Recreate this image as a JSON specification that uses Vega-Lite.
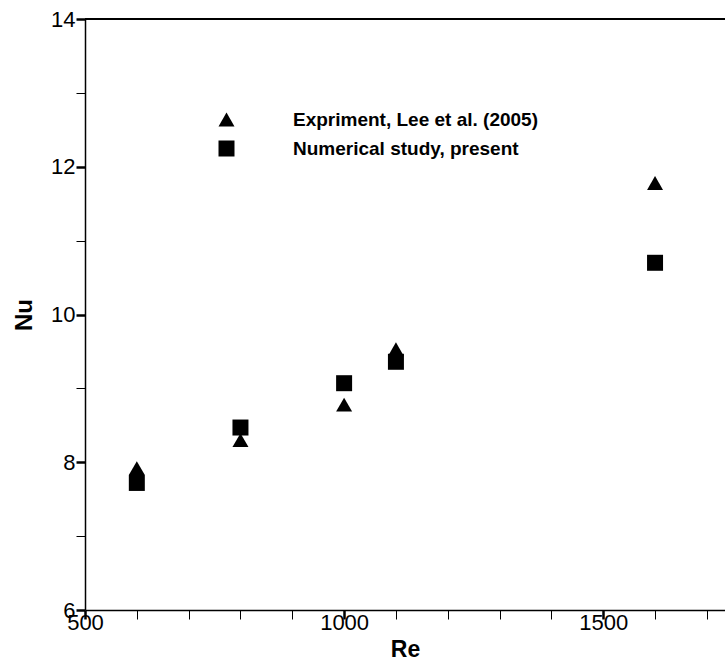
{
  "$schema": "https://vega.github.io/schema/vega-lite/v6.json",
  "autosize": "none",
  "width": 640,
  "height": 591,
  "padding": {"left": 85, "top": 19, "right": 0, "bottom": 54},
  "background": "white",
  "config": {
    "view": {"stroke": null},
    "font": "Liberation Sans"
  },
  "data": {
    "values": [
      {"Re": 600, "Nu": 7.92, "series": "Expriment, Lee et al. (2005)"},
      {"Re": 800, "Nu": 8.3, "series": "Expriment, Lee et al. (2005)"},
      {"Re": 1000, "Nu": 8.78, "series": "Expriment, Lee et al. (2005)"},
      {"Re": 1100, "Nu": 9.53, "series": "Expriment, Lee et al. (2005)"},
      {"Re": 1600, "Nu": 11.78, "series": "Expriment, Lee et al. (2005)"},
      {"Re": 600, "Nu": 7.72, "series": "Numerical study, present"},
      {"Re": 800, "Nu": 8.47, "series": "Numerical study, present"},
      {"Re": 1000, "Nu": 9.07, "series": "Numerical study, present"},
      {"Re": 1100, "Nu": 9.36, "series": "Numerical study, present"},
      {"Re": 1600, "Nu": 10.7, "series": "Numerical study, present"}
    ]
  },
  "layer": [
    {
      "mark": {"type": "rule", "color": "black", "strokeWidth": 1.2},
      "encoding": {"y": {"datum": 14, "type": "quantitative"}}
    },
    {
      "mark": {"type": "point", "filled": true, "opacity": 1, "color": "black", "size": 256},
      "encoding": {
        "x": {
          "field": "Re",
          "type": "quantitative",
          "scale": {"domain": [500, 1735], "nice": false, "zero": false},
          "axis": {
            "title": "Re",
            "titleFont": "Liberation Sans",
            "titleFontSize": 23,
            "titleFontWeight": "bold",
            "titleColor": "black",
            "titlePadding": 5,
            "values": [500, 600, 700, 800, 900, 1000, 1100, 1200, 1300, 1400, 1500, 1600, 1700],
            "labelExpr": "datum.value % 500 === 0 ? datum.label : ''",
            "format": "d",
            "labelFontSize": 22,
            "labelColor": "black",
            "labelPadding": -7,
            "labelFlush": false,
            "grid": false,
            "domainColor": "black",
            "domainWidth": 1.5,
            "tickColor": "black",
            "tickSize": 9,
            "tickWidth": {"condition": {"test": "datum.value % 500 === 0", "value": 2.5}, "value": 1}
          }
        },
        "y": {
          "field": "Nu",
          "type": "quantitative",
          "scale": {"domain": [6, 14], "nice": false, "zero": false},
          "axis": {
            "title": "Nu",
            "titleFont": "Liberation Sans",
            "titleFontSize": 24,
            "titleFontWeight": "bold",
            "titleColor": "black",
            "titlePadding": 14,
            "values": [6, 6.5, 7, 7.5, 8, 8.5, 9, 9.5, 10, 10.5, 11, 11.5, 12, 12.5, 13, 13.5, 14],
            "labelExpr": "datum.value % 2 === 0 ? format(datum.value, 'd') : ''",
            "labelFontSize": 22,
            "labelColor": "black",
            "labelPadding": 1,
            "labelFlush": false,
            "grid": false,
            "domainColor": "black",
            "domainWidth": 1.5,
            "tickColor": "black",
            "tickSize": 9,
            "tickWidth": {"condition": {"test": "datum.value % 2 === 0", "value": 2.5}, "value": 1}
          }
        },
        "shape": {
          "field": "series",
          "type": "nominal",
          "scale": {"domain": ["Expriment, Lee et al. (2005)", "Numerical study, present"], "range": ["triangle-up", "square"]},
          "legend": {
            "orient": "none",
            "legendX": 132,
            "legendY": 91,
            "title": null,
            "labelFont": "Liberation Sans",
            "labelFontSize": 19,
            "labelFontWeight": "bold",
            "labelColor": "black",
            "labelLimit": 500,
            "labelOffset": 57,
            "rowPadding": 9,
            "symbolSize": 256,
            "symbolFillColor": "black",
            "symbolStrokeColor": "black",
            "symbolStrokeWidth": 0,
            "symbolOpacity": 1
          }
        }
      }
    }
  ]
}
